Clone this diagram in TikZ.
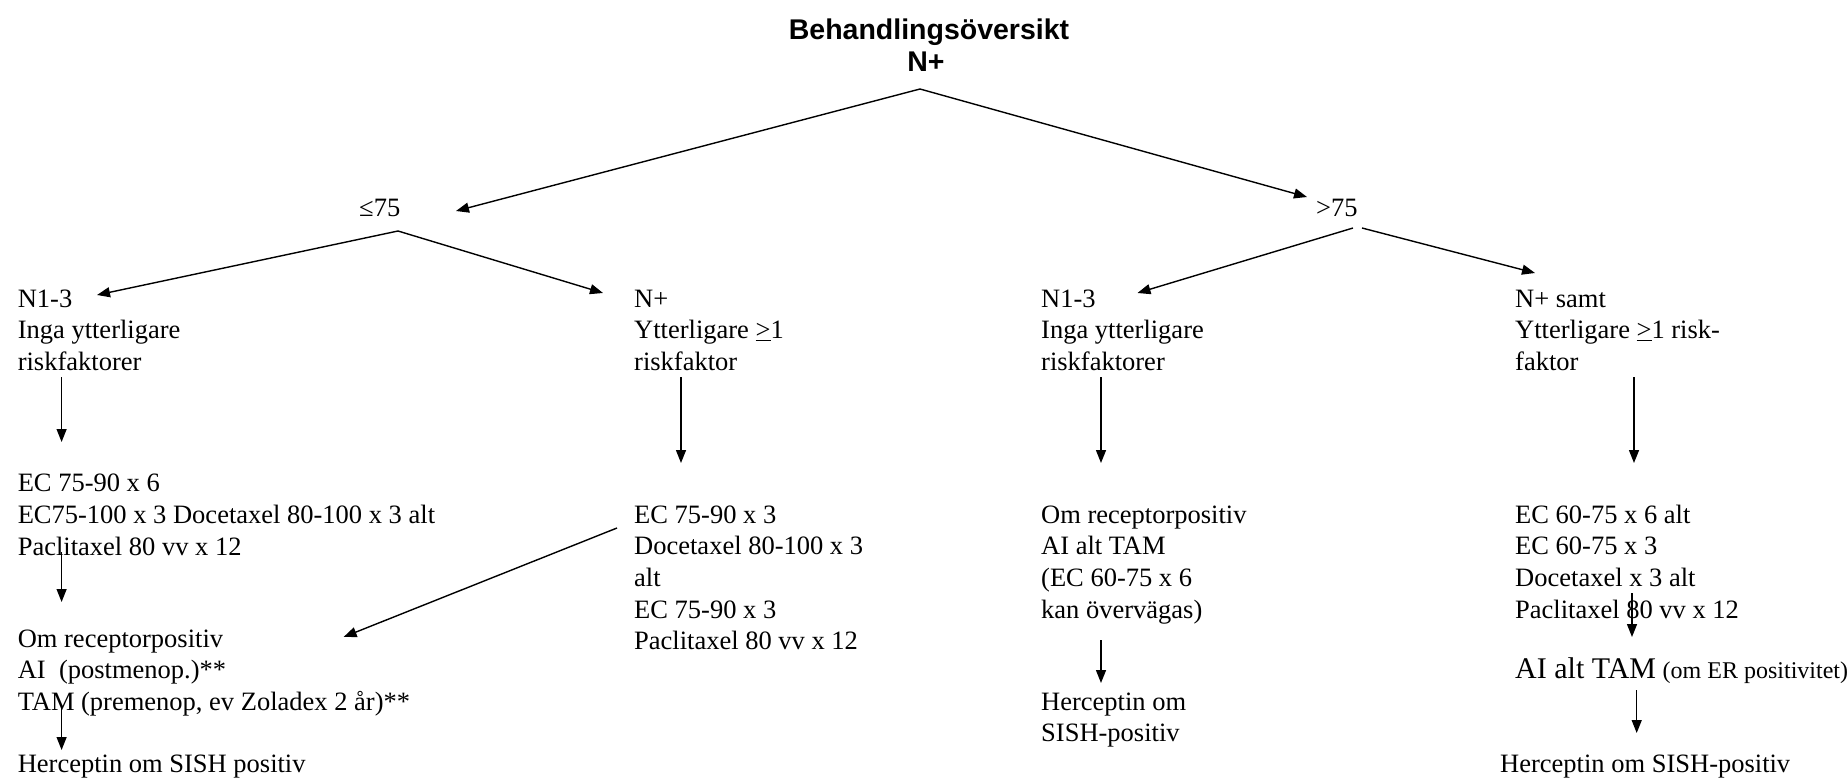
\documentclass[tikz,border=0pt]{standalone}
\usepackage{fontspec}
\setmainfont{Liberation Serif}
\newfontfamily\titlefont{Liberation Sans}
\usetikzlibrary{arrows.meta}
\newcommand{\blk}[1]{\begin{tabular}[t]{@{}l@{}}#1\end{tabular}}
\begin{document}
\begin{tikzpicture}[x=1pt,y=-1pt,
  txt/.style={inner sep=0pt, anchor=base west, font=\fontsize{26.5}{31.7}\selectfont},
  ttl/.style={inner sep=0pt, anchor=base, font=\titlefont\bfseries\fontsize{28.5}{32}\selectfont},
  arr/.style={line width=1.4pt, -{Triangle[length=13pt,width=10pt]}}]
\useasboundingbox (0,0) rectangle (1847,778);

% title
\node[ttl] (title) at (929,40) {Behandlingsöversikt};
\node[ttl] (nplus) at (926,72) {N+};

% age split
\node[txt] (le) at (359,217) {≤75};
\node[txt] (gt) at (1316,217) {>75};

% column 1
\node[txt] (a1) at (17.6,307) {\blk{N1-3\\Inga ytterligare\\riskfaktorer}};
\node[txt] (a2) at (17.6,491.7) {\blk{EC 75-90 x 6\\EC75-100 x 3 Docetaxel 80-100 x 3 alt\\Paclitaxel 80 vv x 12}};
\node[txt] (a3) at (17.6,647) {\blk{Om receptorpositiv\\AI\ \ (postmenop.)**\\TAM (premenop, ev Zoladex 2 år)**}};
\node[txt] (a4) at (17.6,772) {Herceptin om SISH positiv};

% column 2
\node[txt] (b1) at (634,307) {\blk{N+\\Ytterligare \underline{>}1\\riskfaktor}};
\node[txt] (b2) at (634,523) {\blk{EC 75-90 x 3\\Docetaxel 80-100 x 3\\alt\\EC 75-90 x 3\\Paclitaxel 80 vv x 12}};

% column 3
\node[txt] (c1) at (1041,307) {\blk{N1-3\\Inga ytterligare\\riskfaktorer}};
\node[txt] (c2) at (1041,523) {\blk{Om receptorpositiv\\AI alt TAM\\(EC 60-75 x 6\\kan övervägas)}};
\node[txt] (c3) at (1041,710) {\blk{Herceptin om\\SISH-positiv}};

% column 4
\node[txt] (d1) at (1515,307) {\blk{N+ samt\\Ytterligare \underline{>}1 risk-\\faktor}};
\node[txt] (d2) at (1515,523) {\blk{EC 60-75 x 6 alt\\EC 60-75 x 3\\Docetaxel x 3 alt\\Paclitaxel 80 vv x 12}};
\node[txt] (d3) at (1515,678) {{\fontsize{30}{32}\selectfont AI alt TAM} {\fontsize{24}{28}\selectfont (om ER positivitet)}};
\node[txt] (d4) at (1500,772) {Herceptin om SISH-positiv};

% connector end points
\coordinate (apex) at (920,89);
\coordinate (leT) at (456,211);
\coordinate (gtT) at (1307,197);
\coordinate (leS) at (398,231);
\coordinate (a1T) at (97,295);
\coordinate (b1T) at (603,293);
\coordinate (gtSL) at (1353,228);
\coordinate (gtSR) at (1362,228);
\coordinate (c1T) at (1137.5,293);
\coordinate (d1T) at (1535,273);
\coordinate (a1B) at (61.6,377);
\coordinate (a2T) at (61.6,442);
\coordinate (b1B) at (681,377);
\coordinate (b2T) at (681,463);
\coordinate (c1B) at (1101,377);
\coordinate (c2T) at (1101,463);
\coordinate (d1B) at (1634,377);
\coordinate (d2T) at (1634,463);
\coordinate (a2B) at (61.6,552);
\coordinate (a3T) at (61.6,602);
\coordinate (a3B) at (61.6,708);
\coordinate (a4T) at (61.6,750);
\coordinate (b2S) at (617,528);
\coordinate (a3R) at (343.6,637);
\coordinate (c2B) at (1101,640);
\coordinate (c3T) at (1101,683);
\coordinate (d2B) at (1632,593);
\coordinate (d3T) at (1632,637);
\coordinate (d3B) at (1636.7,690);
\coordinate (d4T) at (1636.7,733);

\draw[arr] (apex) -- (leT);
\draw[arr] (apex) -- (gtT);
\draw[arr] (leS) -- (a1T);
\draw[arr] (leS) -- (b1T);
\draw[arr] (gtSL) -- (c1T);
\draw[arr] (gtSR) -- (d1T);
\draw[arr] (a1B) -- (a2T);
\draw[arr] (b1B) -- (b2T);
\draw[arr] (c1B) -- (c2T);
\draw[arr] (d1B) -- (d2T);
\draw[arr] (a2B) -- (a3T);
\draw[arr] (a3B) -- (a4T);
\draw[arr] (b2S) -- (a3R);
\draw[arr] (c2B) -- (c3T);
\draw[arr] (d2B) -- (d3T);
\draw[arr] (d3B) -- (d4T);
\end{tikzpicture}
\end{document}
